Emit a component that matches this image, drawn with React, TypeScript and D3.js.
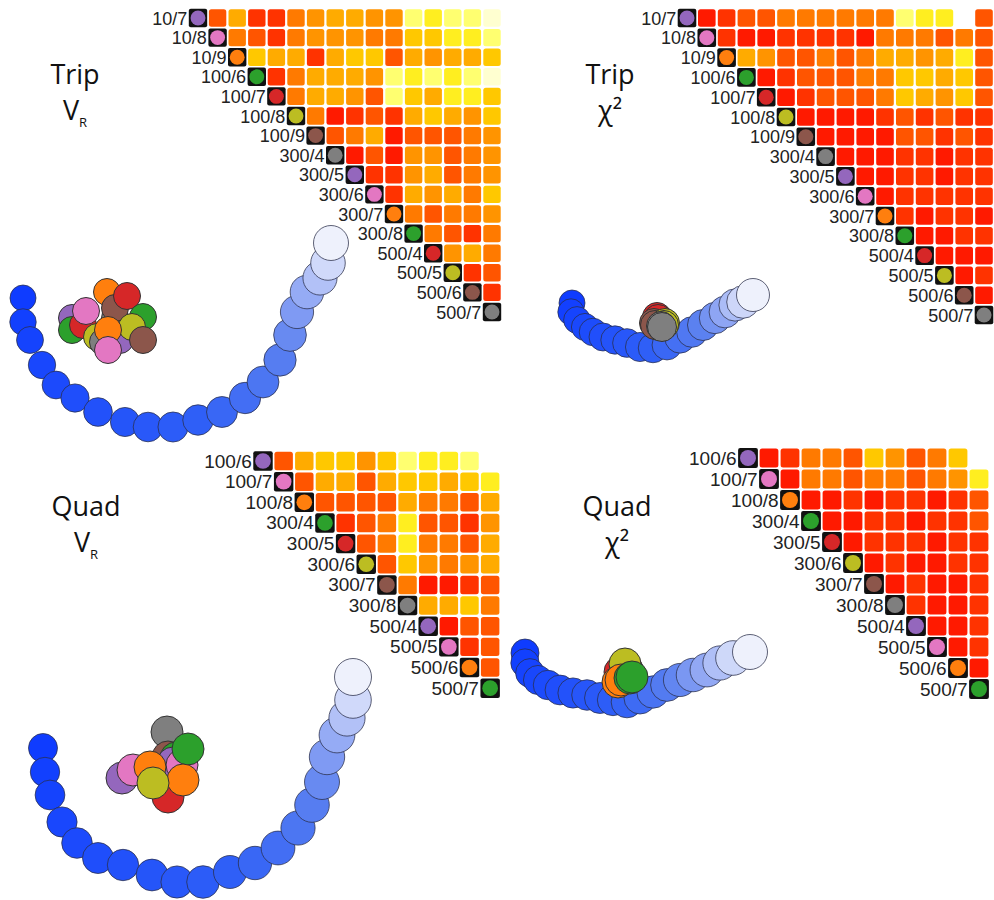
import React, { useEffect, useRef } from 'react';
import * as d3 from 'd3';

const tripLabels = ["10/7", "10/8", "10/9", "100/6", "100/7", "100/8", "100/9", "300/4", "300/5", "300/6", "300/7", "300/8", "500/4", "500/5", "500/6", "500/7"];
const quadLabels = ["100/6", "100/7", "100/8", "300/4", "300/5", "300/6", "300/7", "300/8", "500/4", "500/5", "500/6", "500/7"];
const runColors = ["#9467bd", "#e377c2", "#ff7f0e", "#2ca02c", "#d62728", "#bcbd22", "#8c564b", "#7f7f7f"];

// heat level 0 = red ... 9 = pale yellow
const heatLevels = [0, 1, 2, 3, 4, 5, 6, 7, 8, 9];
const heatColors = ["#ff1a00", "#ff3300", "#ff5500", "#ff7a00", "#ff9400", "#ffab00", "#ffc800", "#ffee20", "#ffff70", "#ffffd0"];

// upper triangle, row by row (cells right of the diagonal), null = no value
const tripVRHeat = [
  [2, 5, 1, 1, 3, 4, 5, 5, 4, 4, 8, 7, 8, 8, 9],
  [3, 2, 1, 3, 4, 4, 4, 3, 3, 6, 6, 7, 7, 8],
  [6, 5, 5, 1, 5, 6, 6, 2, 5, 4, 5, 5, 6],
  [1, 3, 5, 5, 5, 4, 8, 7, 8, 7, 8, 9],
  [3, 5, 5, 4, 2, 8, 6, 5, 7, 7, 6],
  [3, 0, 1, 2, 1, 5, 6, 5, 4, 6],
  [2, 3, 5, 0, 2, 2, 2, 3, 4],
  [0, 2, 0, 4, 4, 2, 3, 4],
  [1, 1, 4, 5, 2, 3, 4],
  [1, 5, 4, 5, 3, 6],
  [3, 2, 3, 3, 4],
  [3, 2, 1, 3],
  [4, 5, 3],
  [1, 2],
  [1],
];

const tripChiHeat = [
  [0, 1, 2, 2, 3, 3, 3, 3, 3, 3, 8, 7, 7, null, 2],
  [1, 0, 0, 1, 1, 1, 1, 0, 3, 3, 3, 2, 3, 2],
  [5, 4, 2, 2, 3, 2, 3, 5, 5, 4, 5, 7, 2],
  [0, 1, 2, 2, 2, 3, 3, 6, 6, 5, 6, 2],
  [0, 1, 2, 2, 2, 3, 6, 5, 4, 6, 2],
  [0, 0, 0, 0, 1, 2, 1, 2, 1, 1],
  [0, 0, 0, 0, 2, 2, 1, 2, 1],
  [0, 0, 0, 1, 1, 0, 1, 1],
  [0, 0, 1, 1, 0, 1, 1],
  [0, 1, 1, 1, 1, 1],
  [1, 0, 1, 1, 0],
  [0, 0, 1, 1],
  [0, 0, 0],
  [0, 1],
  [0],
];

const quadVRHeat = [
  [2, 5, 6, 6, 4, 6, 8, 7, 7, 8, null],
  [2, 5, 5, 2, 5, 6, 6, 5, 6, 7],
  [2, 2, 2, 2, 5, 3, 3, 2, 5],
  [1, 2, 3, 7, 2, 2, 1, 4],
  [2, 3, 7, 3, 3, 2, 5],
  [2, 6, 4, 3, 4, 5],
  [3, 0, 0, 1, 2],
  [5, 5, 6, 3],
  [0, 2, 2],
  [1, 2],
  [2],
];

const quadChiHeat = [
  [0, 1, 3, 3, 2, 6, 4, 2, 3, 6, null],
  [0, 3, 3, 2, 3, 3, 2, 3, 4, 7],
  [0, 0, 1, 0, 1, 1, 0, 1, 2],
  [0, 0, 1, 1, 0, 1, 1, 2],
  [0, 1, 1, 1, 0, 1, 1],
  [0, 1, 0, 0, 1, 1],
  [0, 1, 0, 0, 1],
  [1, 0, 0, 1],
  [0, 0, 1],
  [0, 1],
  [0],
];

// embedding trails (panel-local units)
const tripVRTrail = [[23, 68], [23, 92], [30, 110], [42, 135], [56, 155], [75, 168], [98, 182], [125, 192], [148, 197], [173, 197], [198, 190], [222, 182], [245, 168], [263, 152], [280, 130], [290, 105], [297, 82], [307, 62], [320, 48], [328, 33], [331, 13]];
const tripChiTrail = [[32, 33], [31, 42], [37, 50], [45, 57], [53, 62], [63, 67], [75, 70], [87, 73], [100, 77], [113, 78], [127, 75], [140, 68], [152, 62], [163, 55], [175, 48], [185, 42], [195, 35], [203, 32], [213, 25]];
const quadVRTrail = [[43, 108], [45, 132], [50, 155], [62, 182], [77, 203], [98, 218], [123, 225], [152, 235], [177, 242], [203, 242], [230, 232], [255, 223], [278, 208], [298, 188], [312, 165], [322, 142], [327, 117], [337, 95], [347, 78], [353, 60], [353, 37]];
const quadChiTrail = [[35, 33], [35, 43], [40, 53], [48, 60], [58, 65], [70, 70], [83, 73], [97, 75], [110, 78], [123, 80], [137, 82], [150, 78], [163, 72], [177, 65], [190, 60], [203, 55], [217, 50], [230, 43], [243, 38], [260, 32]];

// runs: [label index, x, y], drawn in this order
const tripVRRuns = [[0, 72, 88], [3, 72, 100], [4, 83, 95], [1, 86, 81], [7, 115, 88], [2, 107, 62], [6, 115, 78], [12, 127, 66], [11, 143, 87], [5, 97, 107], [15, 103, 112], [8, 120, 110], [13, 132, 97], [10, 108, 100], [9, 108, 120], [14, 143, 110]];
const tripChiRuns = [[0, 118, 52], [1, 120, 50], [2, 121, 54], [3, 119, 56], [8, 120, 53], [9, 121, 52], [10, 119, 55], [11, 120, 54], [4, 117, 47], [12, 118, 49], [6, 114, 53], [14, 115, 55], [5, 125, 53], [13, 124, 55], [7, 121, 56], [15, 122, 57]];
const quadVRRuns = [[0, 122, 138], [1, 133, 130], [7, 167, 92], [6, 168, 117], [3, 176, 118], [8, 173, 123], [9, 182, 125], [11, 188, 109], [2, 150, 127], [4, 168, 157], [10, 183, 140], [5, 153, 143]];
const quadChiRuns = [[0, 134, 52], [1, 136, 54], [8, 137, 50], [9, 133, 56], [6, 136, 48], [7, 138, 52], [4, 130, 52], [5, 135, 44], [2, 128, 62], [10, 131, 60], [3, 140, 58], [11, 142, 57]];

const panels = [
  { title: "Trip", sym: "V", sub: "R", labels: tripLabels, heat: tripVRHeat, trail: tripVRTrail, runs: tripVRRuns,
    hx: 198, hy: 18, step: 19.6, tx: 75, ty: 84, ox: 0, oy: 230, r0: 13, r1: 17.5, rr: 13.5, fs: 18 },
  { title: "Trip", sym: "\u03c7\u00b2", sub: "", labels: tripLabels, heat: tripChiHeat, trail: tripChiTrail, runs: tripChiRuns,
    hx: 687, hy: 18, step: 19.8, tx: 610, ty: 84, ox: 540, oy: 270, r0: 13, r1: 16.5, rr: 14.5, fs: 18 },
  { title: "Quad", sym: "V", sub: "R", labels: quadLabels, heat: quadVRHeat, trail: quadVRTrail, runs: quadVRRuns,
    hx: 263, hy: 461, step: 20.65, tx: 86, ty: 516, ox: 0, oy: 640, r0: 14.5, r1: 18.5, rr: 16, fs: 19 },
  { title: "Quad", sym: "\u03c7\u00b2", sub: "", labels: quadLabels, heat: quadChiHeat, trail: quadChiTrail, runs: quadChiRuns,
    hx: 748, hy: 458, step: 21, tx: 617, ty: 516, ox: 490, oy: 620, r0: 14, r1: 17.5, rr: 16, fs: 19 },
];

function drawPanel(svg, p) {
  const n = p.labels.length;
  const color = d3.scaleLinear().domain(heatLevels).range(heatColors);
  const x = d3.scaleLinear().domain([0, n - 1]).range([p.hx, p.hx + p.step * (n - 1)]);
  const y = d3.scaleLinear().domain([0, n - 1]).range([p.hy, p.hy + p.step * (n - 1)]);
  const g = svg.append("g");

  const cells = [];
  p.heat.forEach((row, i) => row.forEach((v, k) => { if (v !== null) cells.push({ i, j: i + k + 1, v }); }));
  const cs = p.step - 2.2;
  g.selectAll("rect.cell").data(cells).join("rect")
    .attr("class", "cell")
    .attr("x", d => x(d.j) - cs / 2).attr("y", d => y(d.i) - cs / 2)
    .attr("width", cs).attr("height", cs).attr("rx", 2.5)
    .attr("fill", d => color(d.v));

  const ms = p.step - 1.2;
  const diag = g.selectAll("g.diag").data(p.labels).join("g").attr("class", "diag");
  diag.append("rect")
    .attr("x", (d, i) => x(i) - ms / 2).attr("y", (d, i) => y(i) - ms / 2)
    .attr("width", ms).attr("height", ms).attr("rx", 2).attr("fill", "#111");
  diag.append("circle")
    .attr("cx", (d, i) => x(i)).attr("cy", (d, i) => y(i)).attr("r", p.step * 0.38)
    .attr("fill", (d, i) => runColors[i % 8]);
  diag.append("text")
    .attr("x", (d, i) => x(i) - ms / 2 - 1.5).attr("y", (d, i) => y(i) + 6.5)
    .attr("text-anchor", "end")
    .attr("font-family", "Liberation Sans, Arial, sans-serif")
    .attr("font-size", p.fs).attr("fill", "#222")
    .text(d => d);

  // embedding: blue trail, then the coloured runs on top
  const ex = d3.scaleLinear().domain([0, 100]).range([p.ox, p.ox + 100]);
  const ey = d3.scaleLinear().domain([0, 100]).range([p.oy, p.oy + 100]);
  const m = p.trail.length - 1;
  const blue = d3.scaleLinear().domain([0, 0.5, 0.72, 0.86, 1])
    .range(["#0f3cff", "#2f5ff7", "#5a80f0", "#9aaef5", "#eef1fc"]);
  const rad = d3.scaleLinear().domain([0, m]).range([p.r0, p.r1]);
  g.selectAll("circle.trail").data(p.trail).join("circle")
    .attr("class", "trail")
    .attr("cx", d => ex(d[0])).attr("cy", d => ey(d[1]))
    .attr("r", (d, i) => rad(i))
    .attr("fill", (d, i) => blue(i / m))
    .attr("stroke", "#2a2d48").attr("stroke-opacity", 0.75).attr("stroke-width", 1);

  g.selectAll("circle.run").data(p.runs).join("circle")
    .attr("class", "run")
    .attr("cx", d => ex(d[1])).attr("cy", d => ey(d[2]))
    .attr("r", p.rr)
    .attr("fill", d => runColors[d[0] % 8])
    .attr("stroke", "#333").attr("stroke-width", 1);

  // title, two lines
  const tf = "Open Sans, Noto Sans, sans-serif";
  g.append("text").attr("x", p.tx).attr("y", p.ty).attr("text-anchor", "middle")
    .attr("font-family", tf).attr("font-size", 27).attr("fill", "#111").text(p.title);
  const t2 = g.append("text").attr("x", p.tx).attr("y", p.ty + 36).attr("text-anchor", "middle")
    .attr("font-family", tf).attr("font-size", 27).attr("fill", "#111");
  t2.append("tspan").text(p.sym);
  if (p.sub) t2.append("tspan").attr("font-size", 13).attr("dy", 7).text(p.sub);
}

function Figure() {
  const ref = useRef(null);
  useEffect(() => {
    const svg = d3.select(ref.current);
    svg.selectAll("*").remove();
    panels.forEach(p => drawPanel(svg, p));
  });
  return <svg ref={ref} width={994} height={900}
    style={{ position: "absolute", left: 0, top: 0, background: "#fff" }} />;
}

export default function App() {
  return <Figure />;
}
